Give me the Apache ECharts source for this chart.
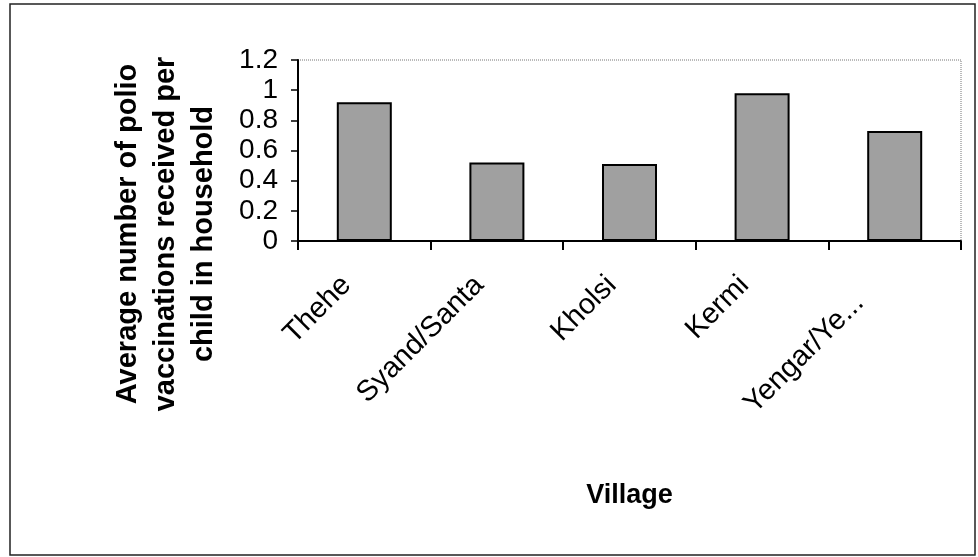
<!DOCTYPE html>
<html>
<head>
<meta charset="utf-8">
<script src="https://cdn.jsdelivr.net/npm/echarts@6/dist/echarts.min.js"></script>
<style>
  html, body { margin: 0; padding: 0; background: #fff; }
  #chart { width: 978px; height: 557px; }
</style>
</head>
<body>
<div id="chart"></div>
<script>
// villages (x categories) and average polio vaccinations per child
const villages = ['Thehe', 'Syand/Santa', 'Kholsi', 'Kermi', 'Yengar/Ye...'];
const avgVaccinations = [0.92, 0.52, 0.51, 0.98, 0.73];
const yTicks = [0, 0.2, 0.4, 0.6, 0.8, 1, 1.2];

const chartDom = document.getElementById('chart');
const myChart = echarts.init(chartDom);

const fontFamily = '"Liberation Sans", Arial, sans-serif';

const option = {
  animation: false,
  backgroundColor: '#fff',
  grid: {
    left: 298,
    right: 17,
    top: 60,
    bottom: 316,
    show: true,
    borderColor: '#777',
    borderWidth: 1,
    borderType: 'dotted'
  },
  graphic: [
    {
      // outer chart frame
      type: 'rect',
      shape: { x: 10, y: 4, width: 965, height: 551 },
      style: { fill: 'none', stroke: '#222', lineWidth: 1.5 },
      z: 0
    },
    {
      // y axis title, three centred lines
      type: 'text',
      x: 166,
      y: 234,
      rotation: Math.PI / 2,
      style: {
        text: 'Average number of polio\nvaccinations received per\nchild in household',
        font: 'bold 29px ' + fontFamily,
        fill: '#000',
        align: 'center',
        verticalAlign: 'middle',
        lineHeight: 38
      }
    }
  ],
  xAxis: {
    type: 'category',
    // the last label sits a bit further down the diagonal in the original
    data: villages.map((v, i) => i === villages.length - 1
      ? { value: v, textStyle: { padding: [0, 50, 0, 0] } }
      : v),
    name: 'Village',
    nameLocation: 'middle',
    nameGap: 241,
    nameTextStyle: {
      color: '#000',
      fontFamily: fontFamily,
      fontSize: 27,
      fontWeight: 'bold'
    },
    axisLine: { lineStyle: { color: '#000', width: 2 } },
    axisTick: { show: true, length: 9, lineStyle: { color: '#000', width: 2 } },
    axisLabel: {
      rotate: 45,
      margin: 22,
      padding: [0, 25, 0, 0],
      interval: 0,
      color: '#000',
      fontFamily: fontFamily,
      fontSize: 29
    },
    splitLine: { show: false }
  },
  yAxis: {
    type: 'value',
    min: yTicks[0],
    max: yTicks[yTicks.length - 1],
    interval: 0.2,
    axisLine: { show: true, lineStyle: { color: '#000', width: 2 } },
    axisTick: { show: true, length: 7, lineStyle: { color: '#000', width: 1.5 } },
    axisLabel: {
      margin: 20,
      color: '#000',
      fontFamily: fontFamily,
      fontSize: 28
    },
    splitLine: { show: false }
  },
  series: [
    {
      type: 'bar',
      data: avgVaccinations,
      barWidth: 55,
      itemStyle: {
        color: '#a0a0a0',
        borderColor: '#000',
        borderWidth: 2
      }
    }
  ]
};

myChart.setOption(option);
</script>
</body>
</html>
